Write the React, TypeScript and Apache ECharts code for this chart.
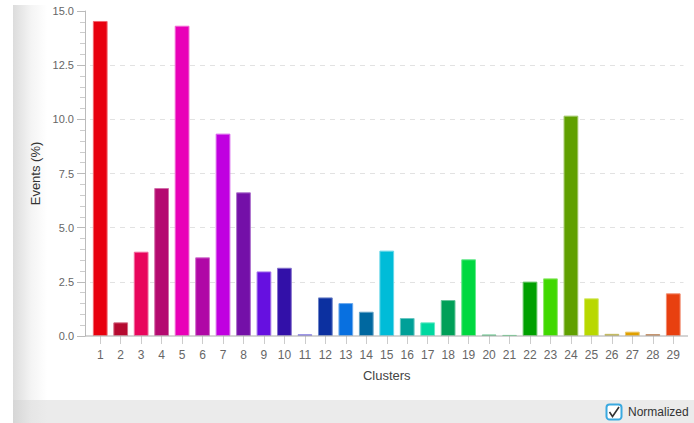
import React, { useEffect, useRef } from "react";
import * as echarts from "echarts";

const categories = ["1","2","3","4","5","6","7","8","9","10","11","12","13","14","15","16","17","18","19","20","21","22","23","24","25","26","27","28","29"];
const values = [14.54, 0.63, 3.89, 6.83, 14.32, 3.63, 9.34, 6.63, 2.98, 3.15, 0.08, 1.78, 1.52, 1.12, 3.94, 0.83, 0.63, 1.66, 3.54, 0.07, 0.05, 2.51, 2.66, 10.17, 1.74, 0.1, 0.2, 0.09, 1.97];
const colors = ["#e8000e","#b50a30","#e8065c","#b40a70","#e900b8","#b008a6","#c000e0","#7410a8","#6610e0","#3210a8","#4030d0","#0c30a0","#0870e0","#0068a0","#00bcd8","#00a098","#00d8a0","#00a058","#00d840","#00a040","#00c040","#00a000","#40d800","#60a000","#b8d800","#a09000","#e0a000","#a05010","#e84010"];
const yTicks = { min: 0, max: 15, interval: 2.5 };
const yName = "Events (%)";
const xName = "Clusters";
const checkLabel = "Normalized";

const FONT = "Liberation Sans, Arial, sans-serif";

function lighten(hex: string, t: number): string {
  const n = parseInt(hex.slice(1), 16);
  const r = (n >> 16) & 255, g = (n >> 8) & 255, b = n & 255;
  const m = (c: number) => Math.round(c + (255 - c) * t);
  return `rgb(${m(r)},${m(g)},${m(b)})`;
}

export default function App() {
  const ref = useRef<HTMLDivElement>(null);
  useEffect(() => {
    if (!ref.current) return;
    const chart = echarts.init(ref.current, undefined, { renderer: "svg" });
    chart.setOption({
      animation: false,
      textStyle: { fontFamily: FONT },
      grid: { left: 90, right: 10.5, top: 11, bottom: 87 },
      xAxis: {
        type: "category",
        data: categories,
        name: xName,
        nameLocation: "middle",
        nameGap: 33,
        nameTextStyle: { fontSize: 13, color: "#444", fontFamily: FONT },
        axisLine: { show: false },
        axisTick: { show: true, alignWithLabel: true, length: 8, lineStyle: { color: "#ccc" } },
        axisLabel: { fontSize: 12, color: "#666", margin: 13, interval: 0, fontFamily: FONT },
      },
      yAxis: {
        type: "value",
        min: yTicks.min,
        max: yTicks.max,
        interval: yTicks.interval,
        offset: 5,
        name: yName,
        nameLocation: "middle",
        nameGap: 38,
        nameRotate: 90,
        nameTextStyle: { fontSize: 13, color: "#333", fontFamily: FONT },
        axisLine: { show: true, lineStyle: { color: "#bbb" } },
        axisTick: { show: true, length: 8, lineStyle: { color: "#bbb" } },
        minorTick: { show: true, splitNumber: 5, length: 5, lineStyle: { color: "#ccc" } },
        axisLabel: {
          fontSize: 11,
          color: "#666",
          margin: 11,
          fontFamily: FONT,
          formatter: (v: number) => v.toFixed(1),
        },
        splitLine: {
          show: true,
          showMinLine: false,
          showMaxLine: false,
          lineStyle: { color: "#e2e2e2", type: [5, 5] },
        },
      },
      series: [
        {
          type: "bar",
          data: values.map((v, i) => ({
            value: v,
            itemStyle: { color: colors[i], borderColor: lighten(colors[i], 0.4), borderWidth: 1 },
          })),
          barCategoryGap: "28%",
        },
      ],
      graphic: [
        {
          type: "line",
          z: 10,
          shape: { x1: 85, y1: 336, x2: 688, y2: 336 },
          style: { stroke: "#aaa", lineWidth: 1 },
        },
        {
          type: "rect",
          z: 10,
          shape: { x: 606.5, y: 404.5, width: 15, height: 15, r: 3 },
          style: { fill: "#fff", stroke: "#3aa9e0", lineWidth: 2 },
        },
        {
          type: "polyline",
          z: 11,
          shape: { points: [[609.5, 412], [612.5, 416.5], [619, 407]] },
          style: { stroke: "#333", lineWidth: 1.6, fill: null },
        },
        {
          type: "text",
          z: 11,
          x: 628,
          y: 412,
          style: {
            text: checkLabel,
            fontSize: 12,
            fill: "#333",
            fontFamily: FONT,
            verticalAlign: "middle",
            textAlign: "left",
          },
        },
      ],
    });
    return () => chart.dispose();
  }, []);

  return (
    <div style={{ position: "fixed", left: 0, top: 0, width: 694, height: 423, background: "#fff", overflow: "hidden" }}>
      <div
        style={{
          position: "absolute",
          left: 13,
          top: 5,
          width: 681,
          height: 418,
          background: "linear-gradient(to right, #dcdcdc 0px, #f4f4f4 18px, #ffffff 34px)",
        }}
      />
      <div
        style={{
          position: "absolute",
          left: 13,
          top: 400,
          width: 681,
          height: 23,
          background: "linear-gradient(to right, #d6d6d6 0px, #e6e6e6 18px, #ebebeb 34px)",
        }}
      />
      <div ref={ref} style={{ position: "absolute", left: 0, top: 0, width: 694, height: 423 }} />
    </div>
  );
}
